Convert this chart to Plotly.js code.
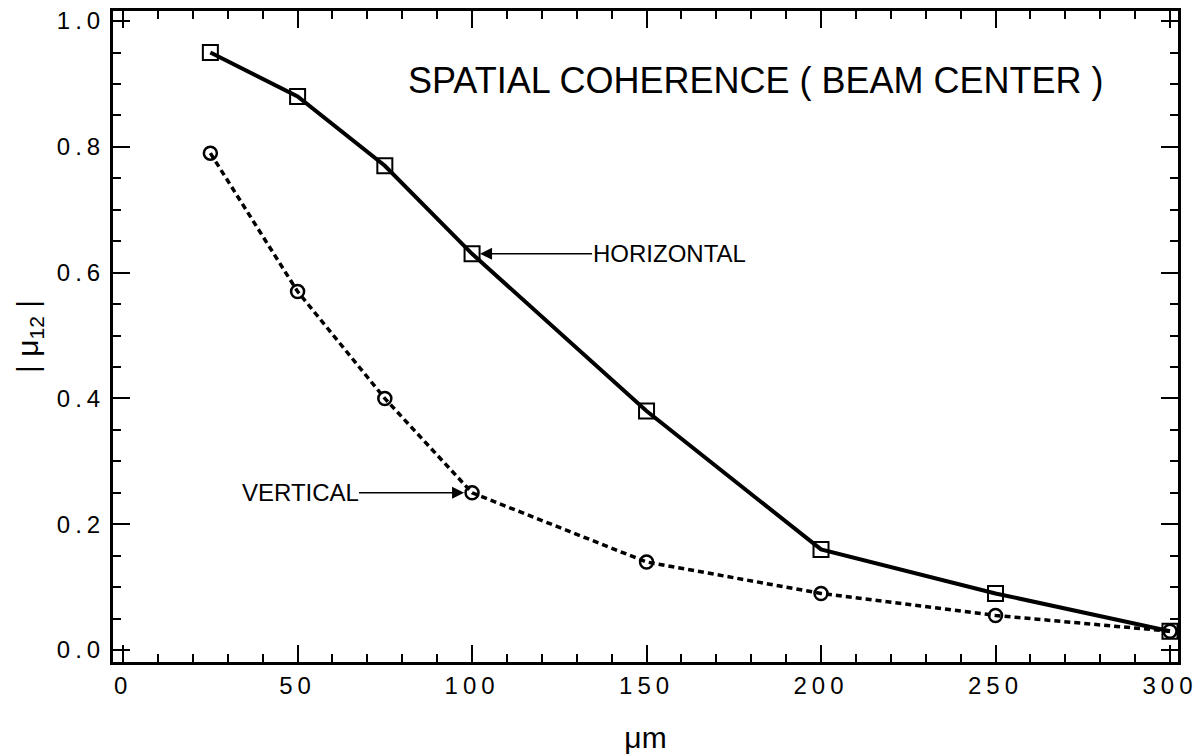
<!DOCTYPE html>
<html>
<head>
<meta charset="utf-8">
<script src="https://cdn.plot.ly/plotly-3.0.1.min.js"></script>
<style>
html,body{margin:0;padding:0;background:#fff;}
#chart{width:1203px;height:755px;}
.xtick text, .ytick text { letter-spacing: 5px; }
</style>
</head>
<body>
<div id="chart"></div>
<script>
// Separation (micrometres)
const separation = [25, 50, 75, 100, 150, 200, 250, 300];
// |mu12| horizontal
const horizontal = [0.95, 0.88, 0.77, 0.63, 0.38, 0.16, 0.09, 0.03];
// |mu12| vertical
const vertical = [0.79, 0.57, 0.40, 0.25, 0.14, 0.09, 0.055, 0.03];

const chartTitle = 'SPATIAL COHERENCE ( BEAM CENTER )';
const labelH = 'HORIZONTAL';
const labelV = 'VERTICAL';
const xTitle = 'μm';
const yTitle = '| μ<sub>12</sub> |';

const FONT = 'Liberation Sans, Arial, Helvetica, sans-serif';

const traces = [
  {
    x: separation, y: horizontal, type: 'scatter', mode: 'lines+markers',
    name: labelH,
    line: {color: '#000', width: 4},
    marker: {symbol: 'square-open', size: 15, color: '#000', line: {width: 2, color: '#000'}}
  },
  {
    x: separation, y: vertical, type: 'scatter', mode: 'lines+markers',
    name: labelV,
    line: {color: '#000', width: 3.5, dash: '6px,4px'},
    marker: {symbol: 'circle-open', size: 13, color: '#000', line: {width: 2.5, color: '#000'}}
  }
];

const axisCommon = {
  showline: true, linewidth: 3, linecolor: '#000', mirror: 'allticks',
  ticks: 'inside', ticklen: 17, tickwidth: 2, tickcolor: '#000',
  showgrid: false, zeroline: false,
  tickfont: {family: FONT, size: 24, color: '#000'}
};

const layout = {
  width: 1203, height: 755,
  margin: {l: 113, r: 25, t: 11, b: 93, pad: 0},
  paper_bgcolor: '#fff', plot_bgcolor: '#fff',
  showlegend: false,
  font: {family: FONT, color: '#000'},
  xaxis: Object.assign({}, axisCommon, {
    range: [-2.9, 302.3], tickmode: 'linear', tick0: 0, dtick: 50,
    minor: {dtick: 10, tick0: 0, ticks: 'inside', ticklen: 8, tickwidth: 2, tickcolor: '#000', showgrid: false},
    title: {text: xTitle, font: {family: FONT, size: 30, color: '#000'}, standoff: 30}
  }),
  yaxis: Object.assign({}, axisCommon, {
    range: [-0.019, 1.016], tickmode: 'linear', tick0: 0, dtick: 0.2, tickformat: '.1f',
    minor: {dtick: 0.05, tick0: 0, ticks: 'inside', ticklen: 8, tickwidth: 2, tickcolor: '#000', showgrid: false},
    title: {text: yTitle, font: {family: FONT, size: 30, color: '#000'}, standoff: 10}
  }),
  annotations: [
    {
      xref: 'paper', yref: 'paper', x: 0.603, y: 0.894, xanchor: 'center', yanchor: 'middle',
      text: chartTitle, showarrow: false,
      font: {family: FONT, size: 36, color: '#000'}
    },
    {
      xref: 'x', yref: 'y', x: separation[3], y: horizontal[3],
      text: labelH, showarrow: true, ax: 197, ay: 0,
      arrowhead: 2, arrowsize: 1.6, arrowwidth: 1.5, arrowcolor: '#000', standoff: 8,
      borderpad: 0, font: {family: FONT, size: 24, color: '#000'}
    },
    {
      xref: 'x', yref: 'y', x: separation[3], y: vertical[3],
      text: labelV, showarrow: true, ax: -172, ay: 0,
      arrowhead: 2, arrowsize: 1.6, arrowwidth: 1.5, arrowcolor: '#000', standoff: 8,
      borderpad: 0, font: {family: FONT, size: 24, color: '#000'}
    }
  ]
};

Plotly.newPlot('chart', traces, layout, {displayModeBar: false, staticPlot: true});
</script>
</body>
</html>
